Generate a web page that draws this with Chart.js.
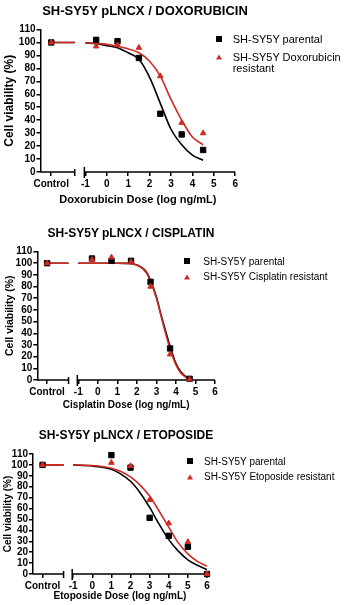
<!DOCTYPE html>
<html>
<head>
<meta charset="utf-8">
<script src="https://cdn.jsdelivr.net/npm/chart.js@4/dist/chart.umd.min.js"></script>
<style>
  body { margin: 0; background: #fff; }
  #wrap { position: relative; width: 344px; height: 605px; overflow: hidden; font-family: "Liberation Sans", Arial, sans-serif; color: #000; }
  canvas { position: absolute; left: 0; }
  .title { position: absolute; font-weight: bold; white-space: nowrap; transform: translate(-50%, -50%); }
  .leg { position: absolute; }
  .sq { position: absolute; width: 6px; height: 6px; background: #000; transform: translate(-50%, -50%); }
  .tri { position: absolute; width: 0; height: 0; border-left: 3px solid transparent; border-right: 3px solid transparent; border-bottom: 5px solid #cf2a21; transform: translate(-50%, -50%); }
</style>
</head>
<body>
<div id="wrap"></div>
<script>
// x positions: Control sits left of the axis break, doses are log ng/mL
const CONTROL_X = -2.6;
const BREAK_START = -1.5;
const BREAK_END = -1.05;
const X_MIN = -3.1;
const X_MAX = 6;
const doseTicks = [-1, 0, 1, 2, 3, 4, 5, 6];
const viabilityTicks = [0, 10, 20, 30, 40, 50, 60, 70, 80, 90, 100, 110];
const RED = '#cf2a21';

const parentalLabel = 'SH-SY5Y parental';

// Doxorubicin
const doxoDose = [-0.5, 0.5, 1.5, 2.5, 3.5, 4.5];
const doxoParental = [102, 101, 88, 45, 29, 17];
const doxoResistant = [97, 98, 96, 74, 38, 30];
const doxoControl = [100, 100];
const doxoCurveDose = [-1, -0.5, 0, 0.5, 1, 1.5, 2, 2.5, 3, 3.5, 4, 4.5];
const doxoParentalCurve = [99.7, 99, 97.5, 96, 92, 87, 73, 53, 33, 21, 13, 9];
const doxoResistantCurve = [99.7, 99.2, 98.5, 97, 95, 92, 85.5, 74, 56, 40, 27, 21];

// Cisplatin
const cisDose = [-0.3, 0.7, 1.7, 2.7, 3.7, 4.7];
const cisParental = [104, 102, 102, 84, 27, 1];
const cisResistant = [103, 105, 101, 80, 22, 0.5];
const cisControl = [100, 100];
const cisCurveDose = [-1, 0, 1, 1.5, 2, 2.5, 3, 3.25, 3.5, 3.75, 4, 4.25, 4.5, 4.7];
const cisParentalCurve = [100, 100, 100, 99.8, 98.5, 92, 71, 55, 40, 26, 14, 7, 3, 1.5];
const cisResistantCurve = [100, 100, 100, 99.8, 98.3, 91.5, 70, 54, 38, 24, 13, 6, 2.5, 1];

// Etoposide
const etoDose = [1, 2, 3, 4, 5, 6];
const etoParental = [109, 97.5, 51.5, 35, 25, 0];
const etoResistant = [102, 99, 68, 46.5, 29.5, 0];
const etoControl = [100, 100];
const etoCurveDose = [-1, 0, 1, 1.5, 2, 2.5, 3, 3.5, 4, 4.5, 5, 5.5, 6];
const etoParentalCurve = [100, 99, 96, 91.5, 85, 74.5, 61, 45.5, 31.5, 21, 13, 8, 4];
const etoResistantCurve = [100, 99.4, 97, 94, 89, 81.5, 71.5, 57.5, 43, 28.5, 18.5, 11.5, 7];

Chart.defaults.font.family = '"Liberation Sans", Arial, sans-serif';
Chart.defaults.color = '#000';

const panels = [
  {
    title: 'SH-SY5Y pLNCX / DOXORUBICIN', titleX: 145, titleY: 10, titleSize: 13,
    xTitle: 'Doxorubicin Dose (log ng/mL)', xTitleSize: 11, xTitlePad: 8.4,
    yTitleSize: 12, yTitlePad: 2.8,
    top: 0, h: 215, padTop: 29.5, padRight: 108.8, yAxisW: 40.5, xAxisH: 43,
    resistantLabel: 'SH-SY5Y Doxorubicin resistant',
    leg: { mx: 219.3, tx: 232.7, y1: 39, y2: 57.3, size: 11, lh: 10.7, maxW: '110px' },
    dose: doxoDose, parental: doxoParental, resistant: doxoResistant, control: doxoControl,
    curveDose: doxoCurveDose, parentalCurve: doxoParentalCurve, resistantCurve: doxoResistantCurve
  },
  {
    title: 'SH-SY5Y pLNCX / CISPLATIN', titleX: 131, titleY: 233.3, titleSize: 12,
    xTitle: 'Cisplatin Dose (log ng/mL)', xTitleSize: 10, xTitlePad: 4,
    yTitleSize: 10.5, yTitlePad: 3.7,
    top: 215, h: 200, padTop: 36.5, padRight: 129, yAxisW: 37.3, xAxisH: 35,
    resistantLabel: 'SH-SY5Y Cisplatin resistant',
    leg: { mx: 186.7, tx: 203.3, y1: 261, y2: 276.7, size: 10, lh: 11, maxW: 'none' },
    dose: cisDose, parental: cisParental, resistant: cisResistant, control: cisControl,
    curveDose: cisCurveDose, parentalCurve: cisParentalCurve, resistantCurve: cisResistantCurve
  },
  {
    title: 'SH-SY5Y pLNCX / ETOPOSIDE', titleX: 126, titleY: 435, titleSize: 12,
    xTitle: 'Etoposide Dose (log ng/mL)', xTitleSize: 10, xTitlePad: 2.5,
    yTitleSize: 10, yTitlePad: 2.3,
    top: 415, h: 190, padTop: 39, padRight: 137, yAxisW: 33, xAxisH: 31,
    resistantLabel: 'SH-SY5Y Etoposide resistant',
    leg: { mx: 190, tx: 204, y1: 461, y2: 476.7, size: 10, lh: 11, maxW: 'none' },
    dose: etoDose, parental: etoParental, resistant: etoResistant, control: etoControl,
    curveDose: etoCurveDose, parentalCurve: etoParentalCurve, resistantCurve: etoResistantCurve
  }
];

// x axis drawn in two pieces with break ticks, like the Prism original
const brokenAxis = {
  id: 'brokenAxis',
  beforeDatasetsDraw(chart) {
    const ctx = chart.ctx;
    const x = chart.scales.x;
    const y0 = chart.chartArea.bottom;
    const a = x.getPixelForValue(X_MIN);
    const b = x.getPixelForValue(BREAK_START);
    const c = x.getPixelForValue(BREAK_END);
    const d = x.getPixelForValue(X_MAX);
    ctx.save();
    ctx.strokeStyle = '#000';
    ctx.lineWidth = 1.5;
    ctx.beginPath();
    ctx.moveTo(a, y0); ctx.lineTo(b, y0);
    ctx.moveTo(c, y0); ctx.lineTo(d, y0);
    ctx.moveTo(b, y0 - 3); ctx.lineTo(b, y0 + 4);
    ctx.moveTo(c, y0 - 5); ctx.lineTo(c, y0 + 6);
    ctx.stroke();
    ctx.restore();
  }
};

function markerData(control, xs, ys) {
  return [{ x: CONTROL_X, y: control }].concat(xs.map((x, i) => ({ x: x, y: ys[i] })));
}

function curveData(control, xs, ys) {
  const pts = [{ x: CONTROL_X, y: control }, { x: BREAK_START, y: control }, { x: (BREAK_START + BREAK_END) / 2, y: null }];
  xs.forEach((x, i) => pts.push({ x: x, y: ys[i] }));
  return pts;
}

function addDiv(cls, left, top, text, style) {
  const el = document.createElement('div');
  el.className = cls;
  el.style.left = left + 'px';
  el.style.top = top + 'px';
  if (text) el.textContent = text;
  Object.assign(el.style, style || {});
  document.getElementById('wrap').appendChild(el);
  return el;
}

function makePanel(p) {
  const wrap = document.getElementById('wrap');
  const canvas = document.createElement('canvas');
  canvas.width = 344;
  canvas.height = p.h;
  canvas.style.top = p.top + 'px';
  wrap.appendChild(canvas);

  addDiv('title', p.titleX, p.titleY, p.title, { fontSize: p.titleSize + 'px' });

  // legend
  const L = p.leg;
  const legStyle = { fontSize: L.size + 'px', lineHeight: L.lh + 'px', maxWidth: L.maxW, whiteSpace: L.maxW === 'none' ? 'nowrap' : 'normal' };
  addDiv('sq', L.mx, L.y1, '');
  addDiv('leg', L.tx, L.y1 - L.lh / 2, parentalLabel, legStyle);
  addDiv('tri', L.mx, L.y2, '');
  addDiv('leg', L.tx, L.y2 - L.lh / 2, p.resistantLabel, legStyle);

  new Chart(canvas.getContext('2d'), {
    type: 'scatter',
    data: {
      datasets: [
        {
          label: p.resistantLabel,
          data: markerData(p.control[1], p.dose, p.resistant),
          pointStyle: 'triangle',
          pointRadius: 3.2,
          backgroundColor: RED,
          borderColor: RED,
          borderWidth: 1,
          clip: false,
          order: 0
        },
        {
          label: parentalLabel,
          data: markerData(p.control[0], p.dose, p.parental),
          pointStyle: 'rect',
          pointRadius: 3.8,
          backgroundColor: '#000',
          borderColor: '#000',
          borderWidth: 1,
          clip: false,
          order: 1
        },
        {
          type: 'line',
          data: curveData(p.control[1], p.curveDose, p.resistantCurve),
          borderColor: RED,
          borderWidth: 1.6,
          pointRadius: 0,
          fill: false,
          spanGaps: false,
          cubicInterpolationMode: 'monotone',
          clip: false,
          order: 2
        },
        {
          type: 'line',
          data: curveData(p.control[0], p.curveDose, p.parentalCurve),
          borderColor: '#000',
          borderWidth: 1.6,
          pointRadius: 0,
          fill: false,
          spanGaps: false,
          cubicInterpolationMode: 'monotone',
          clip: false,
          order: 3
        }
      ]
    },
    options: {
      responsive: false,
      animation: false,
      devicePixelRatio: 1,
      layout: { padding: { top: p.padTop, right: p.padRight, left: 0, bottom: 0 } },
      plugins: { legend: { display: false }, tooltip: { enabled: false } },
      scales: {
        x: {
          type: 'linear',
          min: X_MIN,
          max: X_MAX,
          afterBuildTicks: s => { s.ticks = [CONTROL_X].concat(doseTicks).map(v => ({ value: v })); },
          afterFit: s => { s.height = p.xAxisH; },
          border: { display: false },
          grid: { drawOnChartArea: false, tickLength: 4, color: '#000', lineWidth: 1.5 },
          ticks: {
            autoSkip: false, maxRotation: 0, padding: 2,
            font: { size: 10, weight: 'bold' },
            callback: v => v === CONTROL_X ? 'Control' : String(v)
          },
          title: {
            display: true, text: p.xTitle,
            font: { size: p.xTitleSize, weight: 'bold' },
            padding: { top: 0, bottom: p.xTitlePad }
          }
        },
        y: {
          min: 0,
          max: 110,
          afterBuildTicks: s => { s.ticks = viabilityTicks.map(v => ({ value: v })); },
          afterFit: s => { s.width = p.yAxisW; },
          border: { display: true, color: '#000', width: 1.5 },
          grid: { drawOnChartArea: false, tickLength: 4, color: '#000', lineWidth: 1.5 },
          ticks: { autoSkip: false, padding: 1, font: { size: 10, weight: 'bold' } },
          title: {
            display: true, text: 'Cell viability (%)',
            font: { size: p.yTitleSize, weight: 'bold' },
            padding: { top: p.yTitlePad, bottom: 0 }
          }
        }
      }
    },
    plugins: [brokenAxis]
  });
}

panels.forEach(makePanel);
</script>
</body>
</html>
